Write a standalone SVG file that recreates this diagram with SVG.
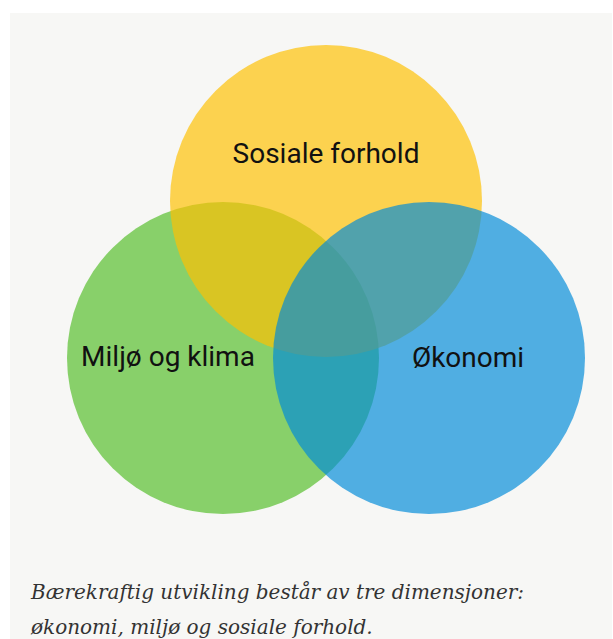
<svg xmlns="http://www.w3.org/2000/svg" width="613" height="639" viewBox="0 0 613 639">
<style>
.lbl{font-family:Roboto,"Liberation Sans",sans-serif;font-size:28px;fill:#111;text-anchor:middle}
.cap{font-family:"DejaVu Serif","Liberation Serif",serif;font-style:italic;font-size:20px;fill:#333}
</style>
<rect x="0" y="0" width="613" height="639" fill="#ffffff"/>
<rect x="10" y="13" width="602" height="626" fill="#f7f7f5"/>
<g id="miljo"><circle cx="223" cy="358" r="156" fill="#88d06a"/></g>
<g id="sosiale"><circle cx="326" cy="201" r="156" fill="#fdc003" fill-opacity="0.685"/></g>
<g id="okonomi"><circle cx="429" cy="358" r="156" fill="#008bd9" fill-opacity="0.68"/></g>
<g id="labels">
<text class="lbl" x="326" y="163">Sosiale forhold</text>
<text class="lbl" x="168" y="366">Miljø og klima</text>
<text class="lbl" x="468" y="367">Økonomi</text>
</g>
<g id="connectors"/>
<g id="caption">
<text class="cap" x="31" y="599" textLength="493" lengthAdjust="spacingAndGlyphs">Bærekraftig utvikling består av tre dimensjoner:</text>
<text class="cap" x="31" y="634">økonomi, miljø og sosiale forhold.</text>
</g>
</svg>
